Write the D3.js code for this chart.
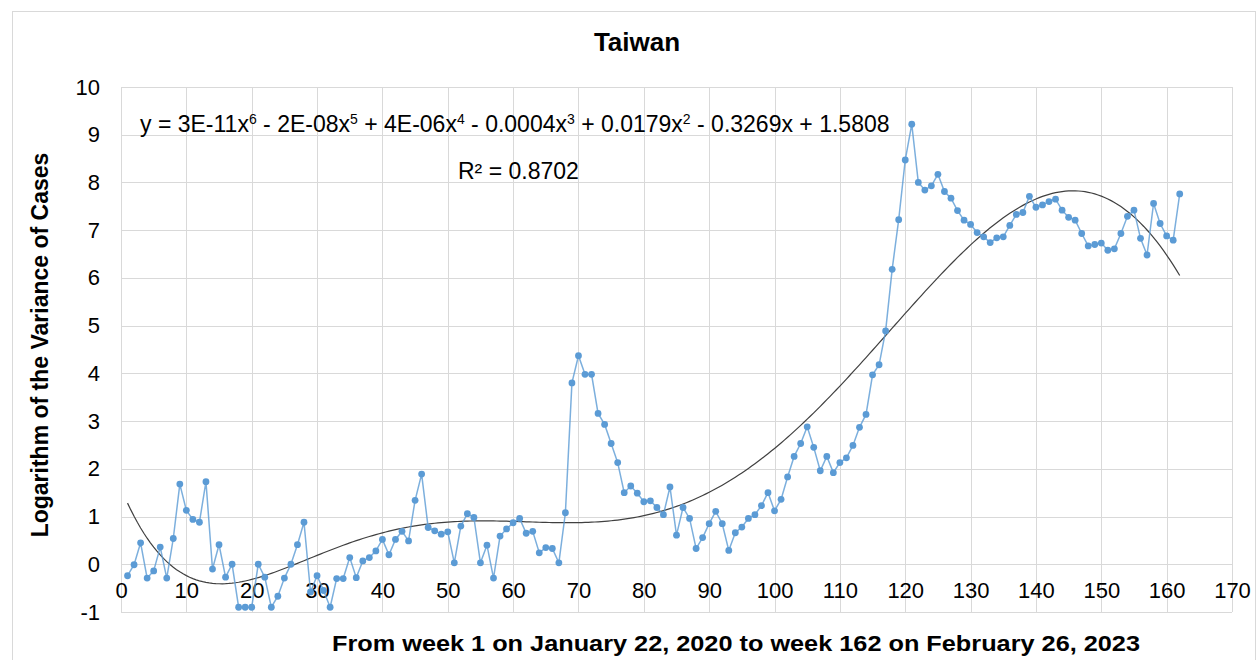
<!DOCTYPE html>
<html>
<head>
<meta charset="utf-8">
<script src="https://cdn.jsdelivr.net/npm/d3@7"></script>
<style>
  body { margin: 0; background: #fff; }
  svg { font-family: "Liberation Sans", Arial, sans-serif; }
</style>
</head>
<body>
<script>
// log of weekly case variance, weeks 1..162
const values = [
  -0.24, -0.01, 0.45, -0.29, -0.14, 0.36, -0.29, 0.54, 1.68, 1.13,
  0.94, 0.88, 1.73, -0.10, 0.41, -0.27, 0.00, -0.90, -0.90, -0.90,
  0.00, -0.27, -0.90, -0.67, -0.29, 0.00, 0.41, 0.88, -0.58, -0.24,
  -0.55, -0.90, -0.30, -0.30, 0.14, -0.28, 0.07, 0.14, 0.28, 0.52,
  0.20, 0.52, 0.69, 0.49, 1.34, 1.89, 0.77, 0.70, 0.63, 0.68,
  0.03, 0.80, 1.06, 0.98, 0.03, 0.40, -0.29, 0.59, 0.74, 0.87,
  0.96, 0.65, 0.69, 0.24, 0.35, 0.33, 0.03, 1.08, 3.80, 4.37,
  3.98, 3.98, 3.16, 2.93, 2.53, 2.13, 1.50, 1.64, 1.49, 1.31,
  1.33, 1.19, 1.04, 1.62, 0.61, 1.19, 0.96, 0.33, 0.56, 0.85,
  1.11, 0.85, 0.29, 0.66, 0.78, 0.96, 1.04, 1.23, 1.50, 1.12,
  1.36, 1.83, 2.26, 2.53, 2.88, 2.45, 1.96, 2.26, 1.92, 2.13,
  2.23, 2.49, 2.87, 3.14, 3.97, 4.18, 4.89, 6.18, 7.22, 8.47,
  9.22, 8.00, 7.84, 7.93, 8.17, 7.81, 7.67, 7.41, 7.21, 7.12,
  6.95, 6.86, 6.74, 6.84, 6.86, 7.10, 7.33, 7.37, 7.71, 7.48,
  7.53, 7.60, 7.65, 7.42, 7.27, 7.21, 6.93, 6.67, 6.70, 6.73,
  6.58, 6.61, 6.93, 7.29, 7.42, 6.83, 6.48, 7.56, 7.14, 6.88,
  6.79, 7.76
];
const weeks = values.map((v, i) => i + 1);
const xTicks = [0, 10, 20, 30, 40, 50, 60, 70, 80, 90, 100, 110, 120, 130, 140, 150, 160, 170];
const yTicks = [-1, 0, 1, 2, 3, 4, 5, 6, 7, 8, 9, 10];

const title = 'Taiwan';
const xTitle = 'From week 1 on January  22, 2020 to week 162 on February 26, 2023';
const yTitle = 'Logarithm of the Variance of Cases';
const rSquared = 'R² = 0.8702';

const width = 1257;
const height = 660;
const plotLeft = 121, plotRight = 1232, plotTop = 87, plotBottom = 612;

const x = d3.scaleLinear().domain([0, 170]).range([plotLeft, plotRight]);
const y = d3.scaleLinear().domain([-1, 10]).range([plotBottom, plotTop]);

const svg = d3.select('body')
  .append('svg')
  .attr('width', width)
  .attr('height', height);

// chart frame
svg.append('rect')
  .attr('x', 12.5).attr('y', 11.5)
  .attr('width', width - 14).attr('height', height)
  .attr('fill', 'none')
  .attr('stroke', '#d9d9d9');

// gridlines
svg.append('g')
  .selectAll('line')
  .data(yTicks)
  .enter()
  .append('line')
  .attr('x1', plotLeft).attr('x2', plotRight)
  .attr('y1', d => Math.round(y(d)) + 0.5)
  .attr('y2', d => Math.round(y(d)) + 0.5)
  .attr('stroke', '#d9d9d9');

svg.append('g')
  .selectAll('line')
  .data(xTicks)
  .enter()
  .append('line')
  .attr('y1', plotTop).attr('y2', plotBottom)
  .attr('x1', d => Math.round(x(d)) + 0.5)
  .attr('x2', d => Math.round(x(d)) + 0.5)
  .attr('stroke', '#d9d9d9');

// axes (labels only)
const yAxis = svg.append('g')
  .attr('transform', `translate(${plotLeft},0)`)
  .call(d3.axisLeft(y).tickValues(yTicks).tickSize(0).tickPadding(21).tickFormat(d => String(d)));
yAxis.select('.domain').remove();
yAxis.selectAll('text').attr('font-size', 22).attr('fill', '#000').attr('font-family', 'Liberation Sans, Arial, sans-serif');

const xAxis = svg.append('g')
  .attr('transform', `translate(0,${y(0)})`)
  .call(d3.axisBottom(x).tickValues(xTicks).tickSize(0).tickPadding(18).tickFormat(d => String(d)));
xAxis.select('.domain').remove();
xAxis.selectAll('text').attr('font-size', 22).attr('fill', '#000').attr('font-family', 'Liberation Sans, Arial, sans-serif');

// 6th order polynomial trendline (least squares on the data, x normalised)
function polyFit(xs, ys, deg) {
  const mid = (d3.min(xs) + d3.max(xs)) / 2, half = (d3.max(xs) - d3.min(xs)) / 2;
  const n = deg + 1;
  const A = d3.range(n).map(() => new Array(n + 1).fill(0));
  xs.forEach((xv, k) => {
    const t = (xv - mid) / half;
    const p = d3.range(2 * n).map(j => Math.pow(t, j));
    for (let i = 0; i < n; i++) {
      for (let j = 0; j < n; j++) A[i][j] += p[i + j];
      A[i][n] += p[i] * ys[k];
    }
  });
  for (let c = 0; c < n; c++) {
    let piv = c;
    for (let r = c + 1; r < n; r++) if (Math.abs(A[r][c]) > Math.abs(A[piv][c])) piv = r;
    [A[c], A[piv]] = [A[piv], A[c]];
    for (let r = 0; r < n; r++) {
      if (r === c) continue;
      const f = A[r][c] / A[c][c];
      for (let j = c; j <= n; j++) A[r][j] -= f * A[c][j];
    }
  }
  const coef = A.map((row, i) => row[n] / row[i]);
  return xv => {
    const t = (xv - mid) / half;
    return coef.reduce((s, c, i) => s + c * Math.pow(t, i), 0);
  };
}
const trend = polyFit(weeks, values, 6);
const trendX = d3.range(1, 162.001, 0.5);

svg.append('path')
  .datum(trendX)
  .attr('d', d3.line().x(d => x(d)).y(d => y(trend(d))))
  .attr('fill', 'none')
  .attr('stroke', '#404040')
  .attr('stroke-width', 1.2);

// series
svg.append('path')
  .datum(values)
  .attr('d', d3.line().x((d, i) => x(weeks[i])).y(d => y(d)))
  .attr('fill', 'none')
  .attr('stroke', '#5b9bd5')
  .attr('stroke-opacity', 0.8)
  .attr('stroke-width', 1.5);

svg.append('g')
  .selectAll('circle')
  .data(values)
  .enter()
  .append('circle')
  .attr('cx', (d, i) => x(weeks[i]))
  .attr('cy', d => y(d))
  .attr('r', 3.4)
  .attr('fill', '#5b9bd5');

// equation + r squared
const eq = svg.append('text')
  .attr('x', 140).attr('y', 132)
  .attr('font-size', 23)
  .attr('fill', '#000');
const eqParts = [
  ['y = 3E-11x', '6'], [' - 2E-08x', '5'], [' + 4E-06x', '4'],
  [' - 0.0004x', '3'], [' + 0.0179x', '2'], [' - 0.3269x + 1.5808', null]
];
eqParts.forEach(([txt, sup], k) => {
  eq.append('tspan').attr('dy', k === 0 ? 0 : 8).text(txt);
  if (sup) eq.append('tspan').attr('dy', -8).attr('font-size', 14).text(sup);
});

svg.append('text')
  .attr('x', 458).attr('y', 179)
  .attr('font-size', 23)
  .text(rSquared);

// titles
svg.append('text')
  .attr('x', 637).attr('y', 51)
  .attr('text-anchor', 'middle')
  .attr('font-size', 26)
  .attr('font-weight', 'bold')
  .text(title);

svg.append('text')
  .attr('transform', 'translate(48,345) rotate(-90)')
  .attr('text-anchor', 'middle')
  .attr('font-size', 23)
  .attr('font-weight', 'bold')
  .text(yTitle);

svg.append('text')
  .attr('x', 736).attr('y', 651)
  .attr('text-anchor', 'middle')
  .attr('font-size', 22)
  .attr('font-weight', 'bold')
  .attr('textLength', 808)
  .attr('lengthAdjust', 'spacingAndGlyphs')
  .text(xTitle);
</script>
</body>
</html>
